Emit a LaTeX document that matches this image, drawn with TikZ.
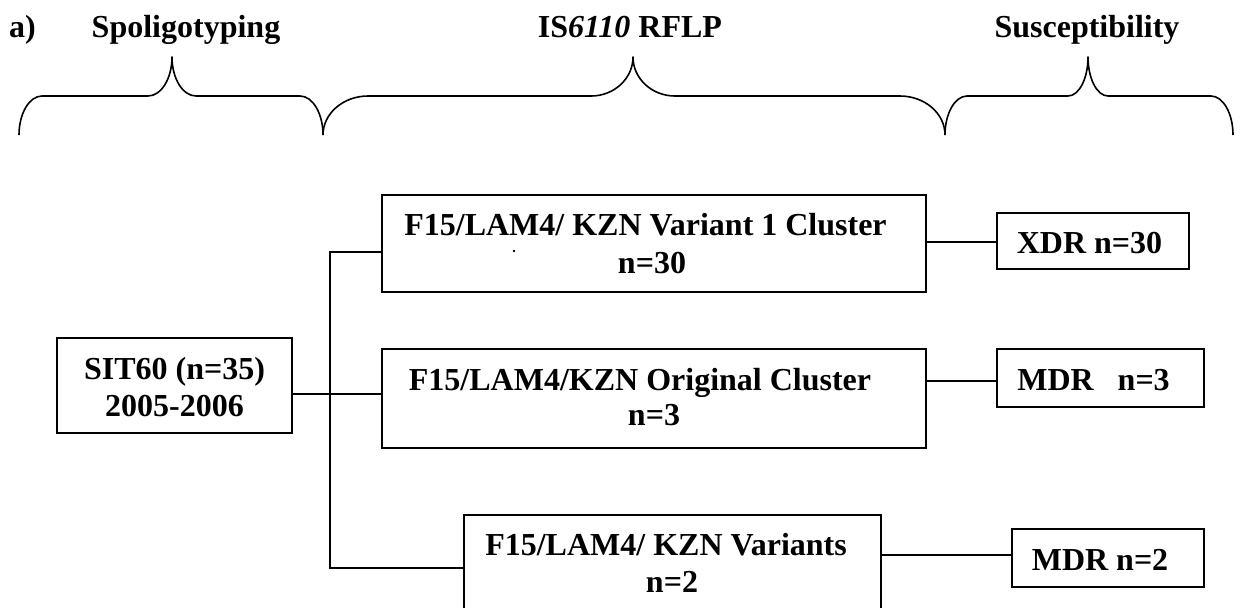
\documentclass[tikz,border=0pt]{standalone}
\usepackage{fontspec}
\setmainfont{Liberation Serif}
\begin{document}
\begin{tikzpicture}[x=0.5pt,y=-0.5pt,
  box/.style={draw, line width=1pt, inner sep=0pt, outer sep=0pt},
  txt/.style={anchor=base, inner sep=0pt, font=\fontsize{16}{19}\selectfont\bfseries},
  link/.style={line width=0.7pt},
  brace/.style={line width=0.8pt, line join=round}]
\useasboundingbox (0,0) rectangle (1240,607);
% header labels
\node[txt] (a) at (22.5,37) {a)};
\node[txt] (hspol) at (186,37) {Spoligotyping};
\node[txt] (hrflp) at (630,37) {IS\textit{6110} RFLP};
\node[txt] (hsus) at (1087,37) {Susceptibility};
% braces
\draw[brace] (19,135) .. controls (19,113.5) and (29.3,96) .. (42,96) -- (148,96)
  .. controls (161.2,96) and (172,78.5) .. (172,57)
  .. controls (172,78.5) and (182.8,96) .. (196,96) -- (300,96)
  .. controls (312.7,96) and (323,113.5) .. (323,135);
\draw[brace] (323,135) .. controls (323,113.5) and (343.2,96) .. (368,96) -- (591,96)
  .. controls (614.2,96) and (633,78.5) .. (633,57)
  .. controls (633,78.5) and (651.8,96) .. (675,96) -- (900,96)
  .. controls (924.8,96) and (945,113.5) .. (945,135);
\draw[brace] (945,135) .. controls (945,113.5) and (954.9,96) .. (967,96) -- (1068,96)
  .. controls (1079,96) and (1088,78.5) .. (1088,57)
  .. controls (1088,78.5) and (1097,96) .. (1108,96) -- (1211,96)
  .. controls (1223.1,96) and (1233,113.5) .. (1233,135);
% boxes
\node[box, minimum width=117.5pt, minimum height=47.5pt] (sit) at (174.5,385.5) {};
\node[box, minimum width=272pt, minimum height=48.5pt] (top) at (654,243.5) {};
\node[box, minimum width=272pt, minimum height=49.5pt] (mid) at (654,398.5) {};
\node[box, minimum width=208.5pt, minimum height=62.5pt] (bot) at (672.5,577.5) {};
\node[box, minimum width=96pt, minimum height=28pt] (xdr) at (1093,241) {};
\node[box, minimum width=103.5pt, minimum height=29pt] (mdrA) at (1100.5,378) {};
\node[box, minimum width=96pt, minimum height=29pt] (mdrB) at (1108,558) {};
% texts
\node[txt] (sit1) at (174.5,379) {SIT60 (n=35)};
\node[txt] (sit2) at (174.5,416) {2005-2006};
\node[txt] (top1) at (645.5,235) {F15/LAM4/ KZN Variant 1 Cluster};
\node[txt] (top2) at (652,273) {n=30};
\node[circle, fill, inner sep=0pt, minimum size=1.3pt] (dot) at (514,251) {};
\node[txt] (mid1) at (640,390) {F15/LAM4/KZN Original Cluster};
\node[txt] (mid2) at (654,425) {n=3};
\node[txt] (bot1) at (666,555) {F15/LAM4/ KZN Variants};
\node[txt] (bot2) at (672,592) {n=2};
\node[txt] (xdrt) at (1089.5,253) {XDR n=30};
\node[txt] (mdrAt) at (1093.5,390) {MDR\ \ \ n=3};
\node[txt] (mdrBt) at (1100,570) {MDR n=2};
% connectors
\coordinate (vt) at (330,252);
\coordinate (vm) at (330,394);
\coordinate (vb) at (330,568);
\draw[link] (top.west |- vt) -- (vt) -- (vb) -- (bot.west |- vb);
\draw[link] (sit.east |- vm) -- (mid.west |- vm);
\coordinate (r1) at (960,242);
\coordinate (r2) at (960,381);
\coordinate (r3) at (960,555);
\draw[link] (top.east |- r1) -- (xdr.west |- r1);
\draw[link] (mid.east |- r2) -- (mdrA.west |- r2);
\draw[link] (bot.east |- r3) -- (mdrB.west |- r3);
\end{tikzpicture}
\end{document}
